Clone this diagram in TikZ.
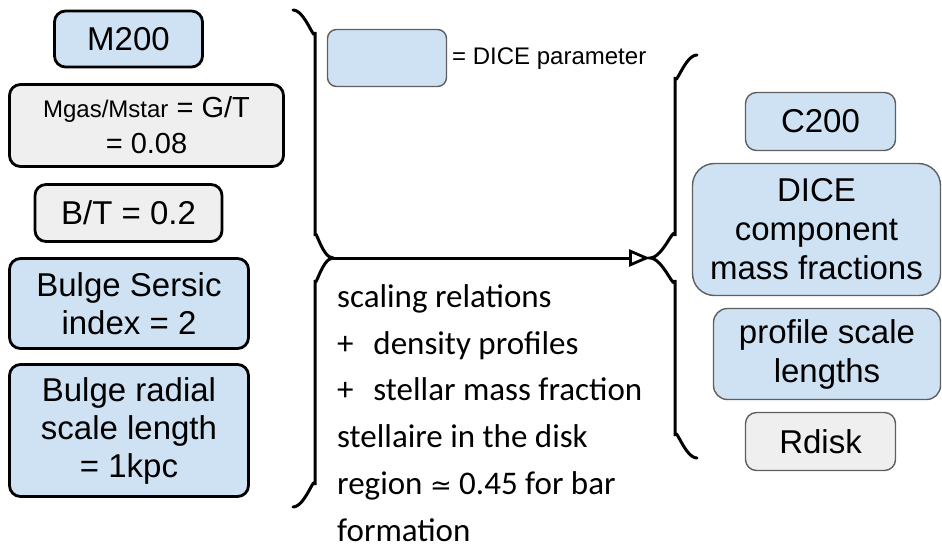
\documentclass[tikz,border=0pt]{standalone}
\usepackage{fontspec}
\setmainfont{Liberation Sans}
\newfontfamily\calib{Carlito}
\newfontfamily\symf{DejaVu Sans}
\usetikzlibrary{arrows.meta}
\definecolor{dblue}{HTML}{CFE2F3}
\definecolor{lgray}{HTML}{EFEFEF}
\definecolor{bgray}{HTML}{5F5F5F}
\tikzset{
  leftbox/.style={draw=black, line width=2.8pt, rounded corners=11pt, inner sep=0pt, align=center,
    font=\fontsize{33}{38}\selectfont},
  rightbox/.style={draw=bgray, line width=1.4pt, rounded corners=11pt, inner sep=0pt, align=center,
    fill=dblue, font=\fontsize{33}{39}\selectfont},
  brace/.style={draw=black, line width=3pt, line cap=round},
}
\begin{document}
\begin{tikzpicture}[x=1pt,y=-1pt]
\useasboundingbox (0,0) rectangle (942,546);
% left input boxes
\node[leftbox, fill=dblue, minimum width=148pt, minimum height=56pt] (m200) at (128.5,39) {M200};
\node[leftbox, fill=lgray, minimum width=274pt, minimum height=82pt, font=\fontsize{29}{36}\selectfont] (mgas) at (146.5,125.5)
  {{\fontsize{24}{36}\selectfont Mgas/Mstar} = G/T\\= 0.08};
\node[leftbox, fill=lgray, minimum width=187pt, minimum height=57pt] (bt) at (128.5,213) {B/T = 0.2};
\node[leftbox, fill=dblue, minimum width=239pt, minimum height=90pt] (sersic) at (129,303.5) {Bulge Sersic\\index = 2};
\node[leftbox, fill=dblue, minimum width=239pt, minimum height=132pt] (radial) at (129,430.5) {Bulge radial\\scale length\\= 1kpc};
% legend
\node[draw=bgray, line width=1.4pt, fill=dblue, rounded corners=9pt, minimum width=119pt, minimum height=57pt, inner sep=0pt] (legend) at (387,58) {};
\node[anchor=west, inner sep=0pt, font=\fontsize{24}{28}\selectfont] (legtext) at (452,59) {= DICE parameter};
% right output boxes
\node[rightbox, minimum width=150pt, minimum height=58pt] (c200) at (820.5,121.5) {C200};
\node[rightbox, rounded corners=22pt, minimum width=248pt, minimum height=132pt] (dice) at (816.5,229.5) {DICE\\component\\mass fractions};
\node[rightbox, rounded corners=14pt, minimum width=227pt, minimum height=91pt] (profile) at (827,354) {profile scale\\lengths};
\node[rightbox, fill=lgray, minimum width=150pt, minimum height=58pt] (rdisk) at (820.5,441.5) {Rdisk};
% text block
\node[anchor=base west, inner sep=0pt, align=left, font=\calib\fontsize{33}{46.7}\selectfont] (relations) at (337,541)
  {scaling relations\\
   +\hspace{0.6em}density profiles\\
   +\hspace{0.6em}stellar mass fraction\\
   stellaire in the disk\\
   region {\symf\fontsize{26}{30}\selectfont ≃} 0.45 for bar\\
   formation};
% braces
\coordinate (ltip) at (333,258);
\coordinate (rtip) at (650,258);
\draw[brace] (293,10) to[out=0,in=-90] (315,32) -- (315,236) to[out=90,in=180] (ltip)
  to[out=180,in=-90] (315,280) -- (315,485) to[out=90,in=0] (293,507);
\draw[brace] (697,55) to[out=180,in=-90] (675,77) -- (675,236) to[out=90,in=0] (rtip)
  to[out=0,in=-90] (675,280) -- (675,436) to[out=90,in=180] (697,458);
% connector
\draw[line width=3pt, -{Triangle[open, length=21pt, width=17pt, line width=2.8pt]}] (ltip) -- (rtip);
\end{tikzpicture}
\end{document}
